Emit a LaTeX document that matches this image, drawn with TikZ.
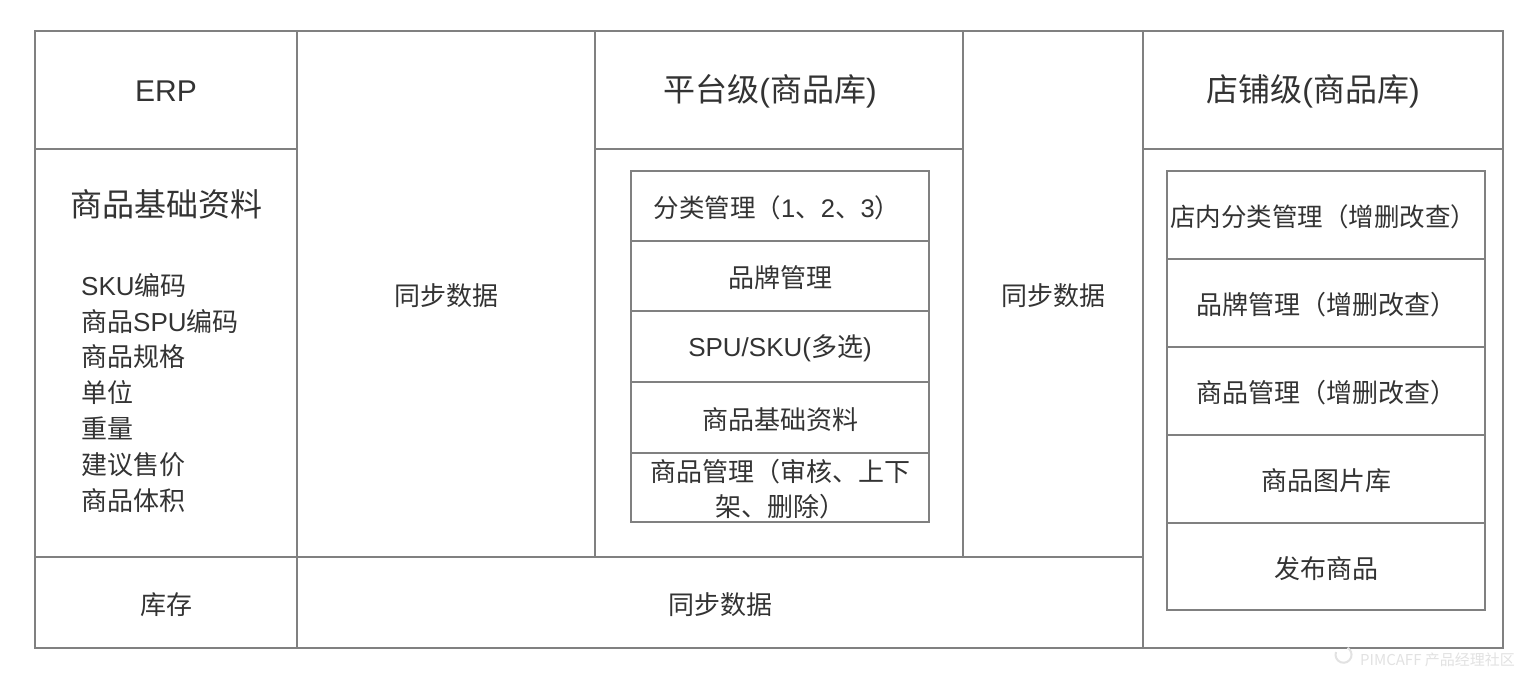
\documentclass[tikz,border=0pt]{standalone}
\usepackage{fontspec}
\setmainfont{Noto Sans CJK SC}
\newfontfamily\lat{Liberation Sans}
\definecolor{gridc}{HTML}{808080}
\definecolor{txt}{HTML}{333333}
\definecolor{wm}{HTML}{E2E2E2}
\begin{document}
\begin{tikzpicture}[x=1pt,y=-1pt,
  cell/.style={draw=gridc,line width=1.8pt,rectangle,anchor=north west,inner sep=0pt,outer sep=0pt},
  lbl/.style={text=txt,inner sep=0pt,yshift=-2pt,font=\fontsize{26}{36}\selectfont},
  head/.style={text=txt,inner sep=0pt,yshift=-1pt,font=\fontsize{32}{36}\selectfont}]
\useasboundingbox (0,0) rectangle (1534,680);
\fill[white] (0,0) rectangle (1534,680);
% outer cells
\node[cell,minimum width=262pt,minimum height=118pt] (erp) at (35,31) {};
\node[cell,minimum width=262pt,minimum height=408pt] (erpbody) at (35,149) {};
\node[cell,minimum width=262pt,minimum height=91pt] (stock) at (35,557) {};
\node[cell,minimum width=298pt,minimum height=526pt] (syncA) at (297,31) {};
\node[cell,minimum width=846pt,minimum height=91pt] (syncC) at (297,557) {};
\node[cell,minimum width=368pt,minimum height=118pt] (plat) at (595,31) {};
\node[cell,minimum width=368pt,minimum height=408pt] (platbody) at (595,149) {};
\node[cell,minimum width=180pt,minimum height=526pt] (syncB) at (963,31) {};
\node[cell,minimum width=360pt,minimum height=118pt] (store) at (1143,31) {};
\node[cell,minimum width=360pt,minimum height=499pt] (storebody) at (1143,149) {};
% platform inner rows
\node[cell,minimum width=298pt,minimum height=70pt] (p1) at (631,171) {};
\node[cell,minimum width=298pt,minimum height=70pt] (p2) at (631,241) {};
\node[cell,minimum width=298pt,minimum height=71pt] (p3) at (631,311) {};
\node[cell,minimum width=298pt,minimum height=71pt] (p4) at (631,382) {};
\node[cell,minimum width=298pt,minimum height=69pt] (p5) at (631,453) {};
% store inner rows
\node[cell,minimum width=318pt,minimum height=88pt] (s1) at (1167,171) {};
\node[cell,minimum width=318pt,minimum height=88pt] (s2) at (1167,259) {};
\node[cell,minimum width=318pt,minimum height=88pt] (s3) at (1167,347) {};
\node[cell,minimum width=318pt,minimum height=88pt] (s4) at (1167,435) {};
\node[cell,minimum width=318pt,minimum height=87pt] (s5) at (1167,523) {};
% texts
\node[head,font=\fontsize{30}{36}\lat] (terp) at (erp.center) {ERP};
\node[head] (tplat) at ([xshift=-9pt]plat.center) {平台级{\lat(}商品库{\lat)}};
\node[head] (tstore) at ([xshift=-10pt]store.center) {店铺级{\lat(}商品库{\lat)}};
\node[head] (tbase) at (166,203) {商品基础资料};
\node[lbl,anchor=north west,align=left,font=\fontsize{26}{35.8}\selectfont] (tlist) at (81,271)
  {{\lat SKU}编码\\商品{\lat SPU}编码\\商品规格\\单位\\重量\\建议售价\\商品体积};
\node[lbl] (tstock) at (stock.center) {库存};
\node[lbl] (tsyncA) at (syncA.center) {同步数据};
\node[lbl] (tsyncB) at (syncB.center) {同步数据};
\node[lbl] (tsyncC) at (syncC.center) {同步数据};
\node[lbl,font=\fontsize{25.5}{36}\selectfont] (tp1) at ([xshift=-3pt]p1.center) {分类管理（{\lat 1}、{\lat 2}、{\lat 3}）};
\node[lbl] (tp2) at (p2.center) {品牌管理};
\node[lbl] (tp3) at (p3.center) {{\lat SPU/SKU(}多选{\lat )}};
\node[lbl] (tp4) at (p4.center) {商品基础资料};
\node[lbl,align=center,font=\fontsize{26}{35}\selectfont] (tp5) at (p5.center) {商品管理（审核、上下\\架、删除）};
\node[lbl,font=\fontsize{25.5}{36}\selectfont] (ts1) at ([xshift=-3pt]s1.center) {店内分类管理（增删改查）};
\node[lbl] (ts2) at (s2.center) {品牌管理（增删改查）};
\node[lbl] (ts3) at (s3.center) {商品管理（增删改查）};
\node[lbl] (ts4) at (s4.center) {商品图片库};
\node[lbl] (ts5) at (s5.center) {发布商品};
% watermark
\draw[wm,line width=2pt] (1336,652) arc (200:-60:8);
\node[text=wm,inner sep=0pt,anchor=west,font=\fontsize{15}{20}\selectfont] (wmk) at (1360,660) {PIMCAFF 产品经理社区};
\end{tikzpicture}
\end{document}
